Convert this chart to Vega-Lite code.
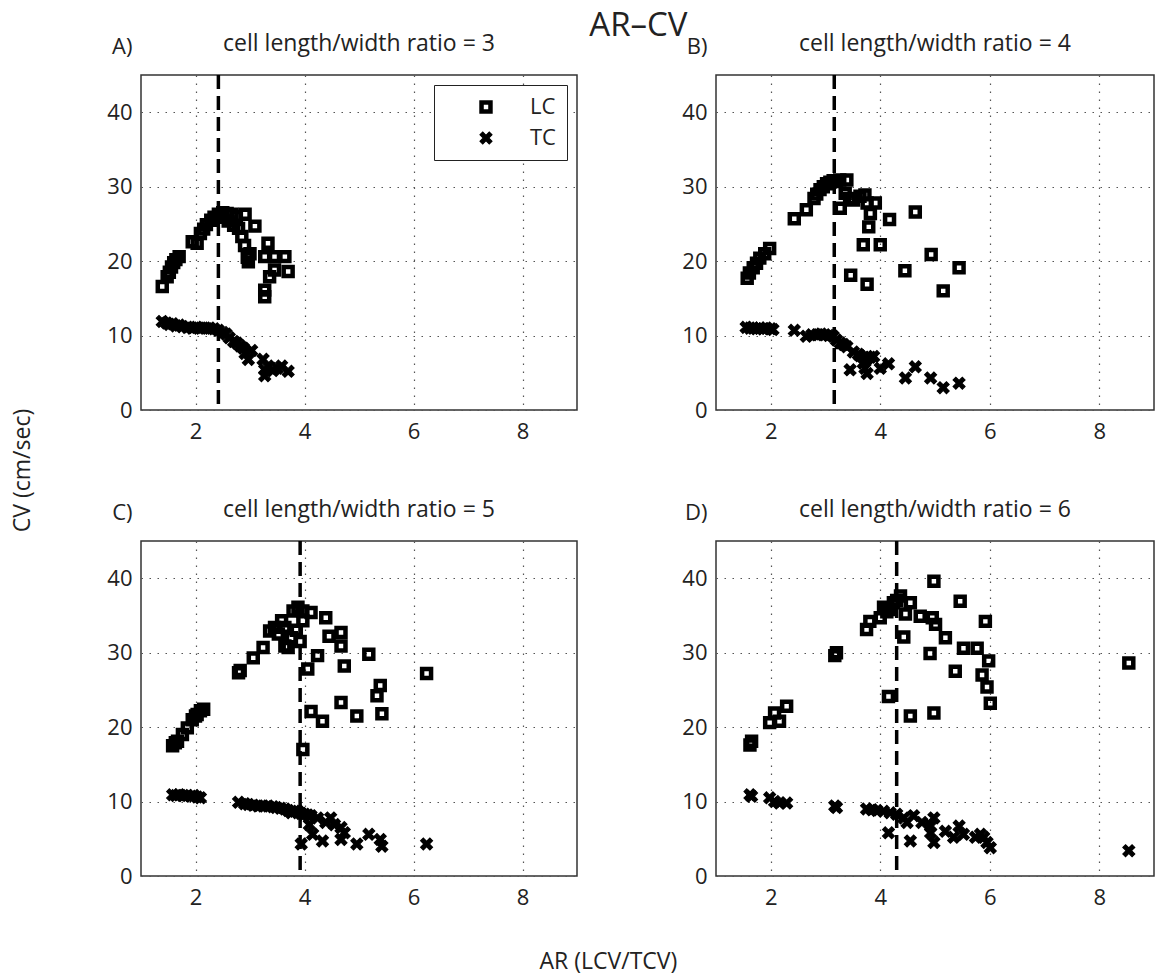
{
  "$schema": "https://vega.github.io/schema/vega-lite/v6.json",
  "padding": {"left": 12, "top": 10, "right": 2, "bottom": 2},
  "config": {
    "font": "Open Sans",
    "view": {"stroke": "#333", "strokeWidth": 1.5},
    "axis": {
      "labelFontSize": 22, "labelColor": "#222",
      "grid": true, "gridColor": "#555", "gridDash": [1.5, 6.5], "gridWidth": 1.2,
      "domain": false, "ticks": false
    },
    "axisX": {"labelPadding": 11},
    "axisY": {
      "labelPadding": 9,
      "titleAngle": 0, "titleAlign": "right", "titleBaseline": "alphabetic",
      "titleX": -9, "titleY": -22, "titleFontSize": 22, "titleFontWeight": "normal", "titleColor": "#222"
    },
    "title": {"fontSize": 23, "fontWeight": "normal", "color": "#222"},
    "legend": {
      "orient": "top-right", "offset": 10, "title": null,
      "strokeColor": "#222", "padding": 11, "fillColor": "white",
      "labelFontSize": 22, "labelColor": "#222", "symbolOffset": 30, "labelOffset": 33,
      "rowPadding": 6
    }
  },
  "datasets": {
    "points": [
      {"panel": "A", "series": "LC", "ar": 1.39, "cv": 16.6}, {"panel": "A", "series": "LC", "ar": 1.48, "cv": 17.9},
      {"panel": "A", "series": "LC", "ar": 1.52, "cv": 18.5}, {"panel": "A", "series": "LC", "ar": 1.56, "cv": 19.2},
      {"panel": "A", "series": "LC", "ar": 1.6, "cv": 19.8}, {"panel": "A", "series": "LC", "ar": 1.64, "cv": 20.2},
      {"panel": "A", "series": "LC", "ar": 1.7, "cv": 20.6}, {"panel": "A", "series": "LC", "ar": 1.94, "cv": 22.6},
      {"panel": "A", "series": "LC", "ar": 2.03, "cv": 22.4}, {"panel": "A", "series": "LC", "ar": 2.09, "cv": 23.7},
      {"panel": "A", "series": "LC", "ar": 2.15, "cv": 24.3}, {"panel": "A", "series": "LC", "ar": 2.2, "cv": 24.9},
      {"panel": "A", "series": "LC", "ar": 2.28, "cv": 25.5}, {"panel": "A", "series": "LC", "ar": 2.34, "cv": 25.9},
      {"panel": "A", "series": "LC", "ar": 2.42, "cv": 26.3}, {"panel": "A", "series": "LC", "ar": 2.5, "cv": 26.5},
      {"panel": "A", "series": "LC", "ar": 2.58, "cv": 26.4}, {"panel": "A", "series": "LC", "ar": 2.67, "cv": 26.3},
      {"panel": "A", "series": "LC", "ar": 2.75, "cv": 26.0}, {"panel": "A", "series": "LC", "ar": 2.91, "cv": 26.3},
      {"panel": "A", "series": "LC", "ar": 2.48, "cv": 25.9}, {"panel": "A", "series": "LC", "ar": 2.6, "cv": 25.4},
      {"panel": "A", "series": "LC", "ar": 2.7, "cv": 24.8}, {"panel": "A", "series": "LC", "ar": 2.79, "cv": 24.4},
      {"panel": "A", "series": "LC", "ar": 2.85, "cv": 23.3}, {"panel": "A", "series": "LC", "ar": 2.9, "cv": 22.1},
      {"panel": "A", "series": "LC", "ar": 2.95, "cv": 20.5}, {"panel": "A", "series": "LC", "ar": 3.0, "cv": 21.0},
      {"panel": "A", "series": "LC", "ar": 2.97, "cv": 19.9}, {"panel": "A", "series": "LC", "ar": 3.09, "cv": 24.7},
      {"panel": "A", "series": "LC", "ar": 3.33, "cv": 22.4}, {"panel": "A", "series": "LC", "ar": 3.27, "cv": 20.6},
      {"panel": "A", "series": "LC", "ar": 3.45, "cv": 20.6}, {"panel": "A", "series": "LC", "ar": 3.64, "cv": 20.6},
      {"panel": "A", "series": "LC", "ar": 3.7, "cv": 18.6}, {"panel": "A", "series": "LC", "ar": 3.36, "cv": 17.9},
      {"panel": "A", "series": "LC", "ar": 3.45, "cv": 18.8}, {"panel": "A", "series": "LC", "ar": 3.27, "cv": 16.1},
      {"panel": "A", "series": "LC", "ar": 3.27, "cv": 15.2},
      {"panel": "A", "series": "TC", "ar": 1.39, "cv": 11.9}, {"panel": "A", "series": "TC", "ar": 1.47, "cv": 11.7},
      {"panel": "A", "series": "TC", "ar": 1.52, "cv": 11.5}, {"panel": "A", "series": "TC", "ar": 1.58, "cv": 11.6},
      {"panel": "A", "series": "TC", "ar": 1.64, "cv": 11.3}, {"panel": "A", "series": "TC", "ar": 1.7, "cv": 11.4},
      {"panel": "A", "series": "TC", "ar": 1.76, "cv": 11.2}, {"panel": "A", "series": "TC", "ar": 1.85, "cv": 11.1},
      {"panel": "A", "series": "TC", "ar": 1.94, "cv": 11.0}, {"panel": "A", "series": "TC", "ar": 2.02, "cv": 11.1},
      {"panel": "A", "series": "TC", "ar": 2.1, "cv": 11.0}, {"panel": "A", "series": "TC", "ar": 2.18, "cv": 11.0},
      {"panel": "A", "series": "TC", "ar": 2.26, "cv": 11.0}, {"panel": "A", "series": "TC", "ar": 2.34, "cv": 10.9},
      {"panel": "A", "series": "TC", "ar": 2.42, "cv": 10.7}, {"panel": "A", "series": "TC", "ar": 2.5, "cv": 10.4},
      {"panel": "A", "series": "TC", "ar": 2.56, "cv": 10.2}, {"panel": "A", "series": "TC", "ar": 2.62, "cv": 9.7},
      {"panel": "A", "series": "TC", "ar": 2.7, "cv": 9.2}, {"panel": "A", "series": "TC", "ar": 2.76, "cv": 9.0},
      {"panel": "A", "series": "TC", "ar": 2.82, "cv": 8.6}, {"panel": "A", "series": "TC", "ar": 2.88, "cv": 8.3},
      {"panel": "A", "series": "TC", "ar": 2.91, "cv": 7.6}, {"panel": "A", "series": "TC", "ar": 2.97, "cv": 6.8},
      {"panel": "A", "series": "TC", "ar": 3.03, "cv": 8.0}, {"panel": "A", "series": "TC", "ar": 3.24, "cv": 6.8},
      {"panel": "A", "series": "TC", "ar": 3.27, "cv": 5.4}, {"panel": "A", "series": "TC", "ar": 3.27, "cv": 4.6},
      {"panel": "A", "series": "TC", "ar": 3.33, "cv": 5.9}, {"panel": "A", "series": "TC", "ar": 3.42, "cv": 5.3},
      {"panel": "A", "series": "TC", "ar": 3.5, "cv": 5.6}, {"panel": "A", "series": "TC", "ar": 3.58, "cv": 5.9},
      {"panel": "A", "series": "TC", "ar": 3.7, "cv": 5.2},

      {"panel": "B", "series": "LC", "ar": 1.57, "cv": 17.7}, {"panel": "B", "series": "LC", "ar": 1.61, "cv": 18.4},
      {"panel": "B", "series": "LC", "ar": 1.68, "cv": 19.1}, {"panel": "B", "series": "LC", "ar": 1.74, "cv": 19.7},
      {"panel": "B", "series": "LC", "ar": 1.8, "cv": 20.4}, {"panel": "B", "series": "LC", "ar": 1.89, "cv": 21.0},
      {"panel": "B", "series": "LC", "ar": 1.98, "cv": 21.7}, {"panel": "B", "series": "LC", "ar": 2.43, "cv": 25.7},
      {"panel": "B", "series": "LC", "ar": 2.65, "cv": 26.9}, {"panel": "B", "series": "LC", "ar": 2.79, "cv": 28.4},
      {"panel": "B", "series": "LC", "ar": 2.84, "cv": 29.0}, {"panel": "B", "series": "LC", "ar": 2.9, "cv": 29.6},
      {"panel": "B", "series": "LC", "ar": 2.96, "cv": 30.0}, {"panel": "B", "series": "LC", "ar": 3.02, "cv": 30.4},
      {"panel": "B", "series": "LC", "ar": 3.08, "cv": 30.6}, {"panel": "B", "series": "LC", "ar": 3.14, "cv": 30.8},
      {"panel": "B", "series": "LC", "ar": 3.2, "cv": 30.7}, {"panel": "B", "series": "LC", "ar": 3.26, "cv": 30.9},
      {"panel": "B", "series": "LC", "ar": 3.39, "cv": 30.9}, {"panel": "B", "series": "LC", "ar": 3.27, "cv": 27.1},
      {"panel": "B", "series": "LC", "ar": 3.36, "cv": 29.1}, {"panel": "B", "series": "LC", "ar": 3.44, "cv": 28.4},
      {"panel": "B", "series": "LC", "ar": 3.51, "cv": 28.2}, {"panel": "B", "series": "LC", "ar": 3.63, "cv": 28.7},
      {"panel": "B", "series": "LC", "ar": 3.72, "cv": 28.9}, {"panel": "B", "series": "LC", "ar": 3.76, "cv": 27.8},
      {"panel": "B", "series": "LC", "ar": 3.91, "cv": 27.8}, {"panel": "B", "series": "LC", "ar": 3.82, "cv": 26.4},
      {"panel": "B", "series": "LC", "ar": 3.79, "cv": 24.6}, {"panel": "B", "series": "LC", "ar": 3.69, "cv": 22.2},
      {"panel": "B", "series": "LC", "ar": 4.0, "cv": 22.2}, {"panel": "B", "series": "LC", "ar": 4.17, "cv": 25.6},
      {"panel": "B", "series": "LC", "ar": 4.64, "cv": 26.6}, {"panel": "B", "series": "LC", "ar": 3.46, "cv": 18.1},
      {"panel": "B", "series": "LC", "ar": 3.76, "cv": 16.9}, {"panel": "B", "series": "LC", "ar": 4.45, "cv": 18.7},
      {"panel": "B", "series": "LC", "ar": 4.93, "cv": 20.9}, {"panel": "B", "series": "LC", "ar": 5.15, "cv": 16.0},
      {"panel": "B", "series": "LC", "ar": 5.44, "cv": 19.1},
      {"panel": "B", "series": "TC", "ar": 1.55, "cv": 11.1}, {"panel": "B", "series": "TC", "ar": 1.62, "cv": 11.0},
      {"panel": "B", "series": "TC", "ar": 1.68, "cv": 11.0}, {"panel": "B", "series": "TC", "ar": 1.74, "cv": 10.9},
      {"panel": "B", "series": "TC", "ar": 1.8, "cv": 11.0}, {"panel": "B", "series": "TC", "ar": 1.86, "cv": 10.9},
      {"panel": "B", "series": "TC", "ar": 1.92, "cv": 11.0}, {"panel": "B", "series": "TC", "ar": 2.0, "cv": 10.9},
      {"panel": "B", "series": "TC", "ar": 2.04, "cv": 10.8}, {"panel": "B", "series": "TC", "ar": 2.43, "cv": 10.7},
      {"panel": "B", "series": "TC", "ar": 2.65, "cv": 9.9}, {"panel": "B", "series": "TC", "ar": 2.75, "cv": 10.1},
      {"panel": "B", "series": "TC", "ar": 2.84, "cv": 10.1}, {"panel": "B", "series": "TC", "ar": 2.92, "cv": 10.2},
      {"panel": "B", "series": "TC", "ar": 2.99, "cv": 10.1}, {"panel": "B", "series": "TC", "ar": 3.06, "cv": 10.0},
      {"panel": "B", "series": "TC", "ar": 3.14, "cv": 9.9}, {"panel": "B", "series": "TC", "ar": 3.2, "cv": 9.4},
      {"panel": "B", "series": "TC", "ar": 3.27, "cv": 9.0}, {"panel": "B", "series": "TC", "ar": 3.33, "cv": 8.8},
      {"panel": "B", "series": "TC", "ar": 3.39, "cv": 8.5}, {"panel": "B", "series": "TC", "ar": 3.51, "cv": 7.8},
      {"panel": "B", "series": "TC", "ar": 3.6, "cv": 7.5}, {"panel": "B", "series": "TC", "ar": 3.63, "cv": 7.3},
      {"panel": "B", "series": "TC", "ar": 3.7, "cv": 7.0}, {"panel": "B", "series": "TC", "ar": 3.76, "cv": 6.9},
      {"panel": "B", "series": "TC", "ar": 3.82, "cv": 7.1}, {"panel": "B", "series": "TC", "ar": 3.88, "cv": 7.2},
      {"panel": "B", "series": "TC", "ar": 3.69, "cv": 6.3}, {"panel": "B", "series": "TC", "ar": 3.72, "cv": 5.6},
      {"panel": "B", "series": "TC", "ar": 3.76, "cv": 4.9}, {"panel": "B", "series": "TC", "ar": 3.45, "cv": 5.4},
      {"panel": "B", "series": "TC", "ar": 4.0, "cv": 5.6}, {"panel": "B", "series": "TC", "ar": 4.15, "cv": 6.2},
      {"panel": "B", "series": "TC", "ar": 4.46, "cv": 4.3}, {"panel": "B", "series": "TC", "ar": 4.64, "cv": 5.8},
      {"panel": "B", "series": "TC", "ar": 4.92, "cv": 4.3}, {"panel": "B", "series": "TC", "ar": 5.15, "cv": 3.0},
      {"panel": "B", "series": "TC", "ar": 5.44, "cv": 3.6},

      {"panel": "C", "series": "LC", "ar": 1.58, "cv": 17.5}, {"panel": "C", "series": "LC", "ar": 1.63, "cv": 17.9},
      {"panel": "C", "series": "LC", "ar": 1.67, "cv": 18.1}, {"panel": "C", "series": "LC", "ar": 1.76, "cv": 19.0},
      {"panel": "C", "series": "LC", "ar": 1.85, "cv": 19.9}, {"panel": "C", "series": "LC", "ar": 1.94, "cv": 21.0},
      {"panel": "C", "series": "LC", "ar": 2.0, "cv": 21.5}, {"panel": "C", "series": "LC", "ar": 2.03, "cv": 21.7},
      {"panel": "C", "series": "LC", "ar": 2.09, "cv": 22.2}, {"panel": "C", "series": "LC", "ar": 2.15, "cv": 22.4},
      {"panel": "C", "series": "LC", "ar": 2.79, "cv": 27.3}, {"panel": "C", "series": "LC", "ar": 2.82, "cv": 27.6},
      {"panel": "C", "series": "LC", "ar": 3.06, "cv": 29.3}, {"panel": "C", "series": "LC", "ar": 3.24, "cv": 30.7},
      {"panel": "C", "series": "LC", "ar": 3.36, "cv": 32.9}, {"panel": "C", "series": "LC", "ar": 3.45, "cv": 33.4},
      {"panel": "C", "series": "LC", "ar": 3.52, "cv": 32.5}, {"panel": "C", "series": "LC", "ar": 3.58, "cv": 34.3},
      {"panel": "C", "series": "LC", "ar": 3.64, "cv": 33.4}, {"panel": "C", "series": "LC", "ar": 3.64, "cv": 30.9},
      {"panel": "C", "series": "LC", "ar": 3.76, "cv": 32.0}, {"panel": "C", "series": "LC", "ar": 3.7, "cv": 30.7},
      {"panel": "C", "series": "LC", "ar": 3.79, "cv": 35.6}, {"panel": "C", "series": "LC", "ar": 3.88, "cv": 36.1},
      {"panel": "C", "series": "LC", "ar": 3.97, "cv": 34.3}, {"panel": "C", "series": "LC", "ar": 3.97, "cv": 35.6},
      {"panel": "C", "series": "LC", "ar": 3.85, "cv": 33.0}, {"panel": "C", "series": "LC", "ar": 3.92, "cv": 31.5},
      {"panel": "C", "series": "LC", "ar": 4.12, "cv": 35.4}, {"panel": "C", "series": "LC", "ar": 4.39, "cv": 34.7},
      {"panel": "C", "series": "LC", "ar": 4.45, "cv": 32.2}, {"panel": "C", "series": "LC", "ar": 4.67, "cv": 32.7},
      {"panel": "C", "series": "LC", "ar": 4.67, "cv": 30.9}, {"panel": "C", "series": "LC", "ar": 4.73, "cv": 28.2},
      {"panel": "C", "series": "LC", "ar": 4.24, "cv": 29.6}, {"panel": "C", "series": "LC", "ar": 4.06, "cv": 27.8},
      {"panel": "C", "series": "LC", "ar": 3.97, "cv": 17.0}, {"panel": "C", "series": "LC", "ar": 4.12, "cv": 22.1},
      {"panel": "C", "series": "LC", "ar": 4.33, "cv": 20.8}, {"panel": "C", "series": "LC", "ar": 4.67, "cv": 23.3},
      {"panel": "C", "series": "LC", "ar": 4.96, "cv": 21.5}, {"panel": "C", "series": "LC", "ar": 5.18, "cv": 29.8},
      {"panel": "C", "series": "LC", "ar": 5.39, "cv": 25.6}, {"panel": "C", "series": "LC", "ar": 5.33, "cv": 24.2},
      {"panel": "C", "series": "LC", "ar": 5.42, "cv": 21.8}, {"panel": "C", "series": "LC", "ar": 6.24, "cv": 27.2},
      {"panel": "C", "series": "TC", "ar": 1.58, "cv": 10.9}, {"panel": "C", "series": "TC", "ar": 1.64, "cv": 10.8},
      {"panel": "C", "series": "TC", "ar": 1.7, "cv": 10.9}, {"panel": "C", "series": "TC", "ar": 1.78, "cv": 10.8},
      {"panel": "C", "series": "TC", "ar": 1.85, "cv": 10.8}, {"panel": "C", "series": "TC", "ar": 1.92, "cv": 10.7},
      {"panel": "C", "series": "TC", "ar": 1.97, "cv": 10.8}, {"panel": "C", "series": "TC", "ar": 2.03, "cv": 10.6},
      {"panel": "C", "series": "TC", "ar": 2.09, "cv": 10.5}, {"panel": "C", "series": "TC", "ar": 2.79, "cv": 9.9},
      {"panel": "C", "series": "TC", "ar": 2.9, "cv": 9.7}, {"panel": "C", "series": "TC", "ar": 2.97, "cv": 9.6},
      {"panel": "C", "series": "TC", "ar": 3.06, "cv": 9.5}, {"panel": "C", "series": "TC", "ar": 3.15, "cv": 9.4},
      {"panel": "C", "series": "TC", "ar": 3.24, "cv": 9.4}, {"panel": "C", "series": "TC", "ar": 3.33, "cv": 9.4},
      {"panel": "C", "series": "TC", "ar": 3.42, "cv": 9.3}, {"panel": "C", "series": "TC", "ar": 3.48, "cv": 9.2},
      {"panel": "C", "series": "TC", "ar": 3.56, "cv": 9.1}, {"panel": "C", "series": "TC", "ar": 3.64, "cv": 9.0},
      {"panel": "C", "series": "TC", "ar": 3.7, "cv": 8.8}, {"panel": "C", "series": "TC", "ar": 3.76, "cv": 8.5},
      {"panel": "C", "series": "TC", "ar": 3.82, "cv": 8.7}, {"panel": "C", "series": "TC", "ar": 3.88, "cv": 8.7},
      {"panel": "C", "series": "TC", "ar": 3.94, "cv": 8.4}, {"panel": "C", "series": "TC", "ar": 4.0, "cv": 8.3},
      {"panel": "C", "series": "TC", "ar": 4.06, "cv": 8.2}, {"panel": "C", "series": "TC", "ar": 4.12, "cv": 8.1},
      {"panel": "C", "series": "TC", "ar": 4.24, "cv": 7.8}, {"panel": "C", "series": "TC", "ar": 4.39, "cv": 7.2},
      {"panel": "C", "series": "TC", "ar": 4.48, "cv": 7.8}, {"panel": "C", "series": "TC", "ar": 4.55, "cv": 6.9},
      {"panel": "C", "series": "TC", "ar": 4.67, "cv": 6.5}, {"panel": "C", "series": "TC", "ar": 4.73, "cv": 5.8},
      {"panel": "C", "series": "TC", "ar": 4.09, "cv": 6.9}, {"panel": "C", "series": "TC", "ar": 4.15, "cv": 5.6},
      {"panel": "C", "series": "TC", "ar": 3.94, "cv": 4.3}, {"panel": "C", "series": "TC", "ar": 4.33, "cv": 4.7},
      {"panel": "C", "series": "TC", "ar": 4.67, "cv": 4.9}, {"panel": "C", "series": "TC", "ar": 4.96, "cv": 4.3},
      {"panel": "C", "series": "TC", "ar": 5.18, "cv": 5.6}, {"panel": "C", "series": "TC", "ar": 5.39, "cv": 4.9},
      {"panel": "C", "series": "TC", "ar": 5.42, "cv": 4.0}, {"panel": "C", "series": "TC", "ar": 6.24, "cv": 4.3},

      {"panel": "D", "series": "LC", "ar": 1.62, "cv": 17.6}, {"panel": "D", "series": "LC", "ar": 1.65, "cv": 18.1},
      {"panel": "D", "series": "LC", "ar": 1.98, "cv": 20.6}, {"panel": "D", "series": "LC", "ar": 2.07, "cv": 21.9},
      {"panel": "D", "series": "LC", "ar": 2.16, "cv": 20.8}, {"panel": "D", "series": "LC", "ar": 2.29, "cv": 22.8},
      {"panel": "D", "series": "LC", "ar": 3.17, "cv": 29.6}, {"panel": "D", "series": "LC", "ar": 3.2, "cv": 30.0},
      {"panel": "D", "series": "LC", "ar": 3.75, "cv": 33.1}, {"panel": "D", "series": "LC", "ar": 3.81, "cv": 34.2},
      {"panel": "D", "series": "LC", "ar": 4.0, "cv": 34.7}, {"panel": "D", "series": "LC", "ar": 4.06, "cv": 36.1},
      {"panel": "D", "series": "LC", "ar": 4.12, "cv": 35.5}, {"panel": "D", "series": "LC", "ar": 4.18, "cv": 35.8},
      {"panel": "D", "series": "LC", "ar": 4.24, "cv": 36.7}, {"panel": "D", "series": "LC", "ar": 4.3, "cv": 37.0},
      {"panel": "D", "series": "LC", "ar": 4.37, "cv": 37.6}, {"panel": "D", "series": "LC", "ar": 4.46, "cv": 35.2},
      {"panel": "D", "series": "LC", "ar": 4.55, "cv": 36.7}, {"panel": "D", "series": "LC", "ar": 4.43, "cv": 32.1},
      {"panel": "D", "series": "LC", "ar": 4.73, "cv": 34.9}, {"panel": "D", "series": "LC", "ar": 4.95, "cv": 34.7},
      {"panel": "D", "series": "LC", "ar": 5.01, "cv": 33.8}, {"panel": "D", "series": "LC", "ar": 5.19, "cv": 32.0},
      {"panel": "D", "series": "LC", "ar": 4.98, "cv": 39.6}, {"panel": "D", "series": "LC", "ar": 4.91, "cv": 29.9},
      {"panel": "D", "series": "LC", "ar": 5.37, "cv": 27.5}, {"panel": "D", "series": "LC", "ar": 5.46, "cv": 36.9},
      {"panel": "D", "series": "LC", "ar": 5.52, "cv": 30.6}, {"panel": "D", "series": "LC", "ar": 5.77, "cv": 30.6},
      {"panel": "D", "series": "LC", "ar": 5.98, "cv": 28.9}, {"panel": "D", "series": "LC", "ar": 5.92, "cv": 34.2},
      {"panel": "D", "series": "LC", "ar": 5.86, "cv": 27.0}, {"panel": "D", "series": "LC", "ar": 5.95, "cv": 25.4},
      {"panel": "D", "series": "LC", "ar": 6.01, "cv": 23.2}, {"panel": "D", "series": "LC", "ar": 4.15, "cv": 24.1},
      {"panel": "D", "series": "LC", "ar": 4.55, "cv": 21.5}, {"panel": "D", "series": "LC", "ar": 4.98, "cv": 21.9},
      {"panel": "D", "series": "LC", "ar": 8.54, "cv": 28.6},
      {"panel": "D", "series": "TC", "ar": 1.62, "cv": 10.9}, {"panel": "D", "series": "TC", "ar": 1.65, "cv": 10.7},
      {"panel": "D", "series": "TC", "ar": 1.98, "cv": 10.5}, {"panel": "D", "series": "TC", "ar": 2.07, "cv": 10.0},
      {"panel": "D", "series": "TC", "ar": 2.16, "cv": 9.8}, {"panel": "D", "series": "TC", "ar": 2.29, "cv": 9.8},
      {"panel": "D", "series": "TC", "ar": 3.17, "cv": 9.4}, {"panel": "D", "series": "TC", "ar": 3.2, "cv": 9.2},
      {"panel": "D", "series": "TC", "ar": 3.75, "cv": 9.0}, {"panel": "D", "series": "TC", "ar": 3.85, "cv": 8.9},
      {"panel": "D", "series": "TC", "ar": 3.94, "cv": 8.8}, {"panel": "D", "series": "TC", "ar": 4.06, "cv": 8.7},
      {"panel": "D", "series": "TC", "ar": 4.18, "cv": 8.5}, {"panel": "D", "series": "TC", "ar": 4.3, "cv": 8.3},
      {"panel": "D", "series": "TC", "ar": 4.43, "cv": 7.8}, {"panel": "D", "series": "TC", "ar": 4.49, "cv": 7.2},
      {"panel": "D", "series": "TC", "ar": 4.61, "cv": 8.1}, {"panel": "D", "series": "TC", "ar": 4.76, "cv": 7.2},
      {"panel": "D", "series": "TC", "ar": 4.92, "cv": 6.7}, {"panel": "D", "series": "TC", "ar": 4.98, "cv": 7.8},
      {"panel": "D", "series": "TC", "ar": 4.92, "cv": 5.8}, {"panel": "D", "series": "TC", "ar": 5.19, "cv": 6.0},
      {"panel": "D", "series": "TC", "ar": 5.34, "cv": 5.2}, {"panel": "D", "series": "TC", "ar": 5.44, "cv": 6.7},
      {"panel": "D", "series": "TC", "ar": 5.52, "cv": 5.6}, {"panel": "D", "series": "TC", "ar": 5.74, "cv": 5.2},
      {"panel": "D", "series": "TC", "ar": 5.83, "cv": 5.6}, {"panel": "D", "series": "TC", "ar": 5.89, "cv": 5.2},
      {"panel": "D", "series": "TC", "ar": 5.95, "cv": 4.5}, {"panel": "D", "series": "TC", "ar": 6.01, "cv": 3.8},
      {"panel": "D", "series": "TC", "ar": 4.15, "cv": 5.8}, {"panel": "D", "series": "TC", "ar": 4.55, "cv": 4.7},
      {"panel": "D", "series": "TC", "ar": 4.98, "cv": 4.5}, {"panel": "D", "series": "TC", "ar": 8.54, "cv": 3.4}
    ],
    "peaks": [
      {"panel": "A", "ar": 2.42},
      {"panel": "B", "ar": 3.16},
      {"panel": "C", "ar": 3.92},
      {"panel": "D", "ar": 4.3}
    ]
  },
  "title": {"text": "AR–CV", "fontSize": 33, "anchor": "middle", "offset": -11, "dx": 55},
  "vconcat": [
    {
      "title": {"text": "AR (LCV/TCV)", "orient": "bottom", "anchor": "middle", "offset": 42, "dx": 25},
      "vconcat": [
        {
          "title": {"text": "CV (cm/sec)", "orient": "left", "anchor": "middle", "offset": 71},
          "columns": 2,
          "spacing": {"row": 55, "column": 103},
          "resolve": {"legend": {"shape": "independent", "fill": "independent", "strokeWidth": "independent", "size": "independent"}},
          "concat": [
            {
              "width": 436, "height": 335,
              "title": {"text": "cell length/width ratio = 3", "offset": -21},
              "layer": [
                {
                  "data": {"name": "points"},
                  "transform": [{"filter": "datum.panel === 'A'"}],
                  "mark": {"type": "point", "stroke": "black", "opacity": 1},
                  "encoding": {
                    "x": {"field": "ar", "type": "quantitative", "scale": {"domain": [1, 9], "nice": false}, "axis": {"values": [2, 4, 6, 8], "title": null}},
                    "y": {"field": "cv", "type": "quantitative", "scale": {"domain": [0, 45], "nice": false}, "axis": {"values": [0, 10, 20, 30, 40], "title": "A)"}},
                    "shape": {"field": "series", "type": "nominal", "scale": {"domain": ["LC", "TC"], "range": ["square", "M-1,-0.55L-0.55,-1L0,-0.45L0.55,-1L1,-0.55L0.45,0L1,0.55L0.55,1L0,0.45L-0.55,1L-1,0.55L-0.45,0Z"]}},
                    "fill": {"field": "series", "type": "nominal", "scale": {"domain": ["LC", "TC"], "range": ["transparent", "black"]}},
                    "strokeWidth": {"field": "series", "type": "nominal", "scale": {"domain": ["LC", "TC"], "range": [4.5, 1.2]}},
                    "size": {"field": "series", "type": "nominal", "scale": {"domain": ["LC", "TC"], "range": [80, 140]}}
                  }
                },
                {
                  "data": {"name": "peaks"},
                  "transform": [{"filter": "datum.panel === 'A'"}],
                  "mark": {"type": "rule", "color": "black", "strokeWidth": 3.5, "strokeDash": [14, 7]},
                  "encoding": {"x": {"field": "ar", "type": "quantitative"}}
                }
              ]
            },
            {
              "width": 438, "height": 335,
              "title": {"text": "cell length/width ratio = 4", "offset": -21},
              "layer": [
                {
                  "data": {"name": "points"},
                  "transform": [{"filter": "datum.panel === 'B'"}],
                  "mark": {"type": "point", "stroke": "black", "opacity": 1},
                  "encoding": {
                    "x": {"field": "ar", "type": "quantitative", "scale": {"domain": [1, 9], "nice": false}, "axis": {"values": [2, 4, 6, 8], "title": null}},
                    "y": {"field": "cv", "type": "quantitative", "scale": {"domain": [0, 45], "nice": false}, "axis": {"values": [0, 10, 20, 30, 40], "title": "B)"}},
                    "shape": {"field": "series", "type": "nominal", "legend": null, "scale": {"domain": ["LC", "TC"], "range": ["square", "M-1,-0.55L-0.55,-1L0,-0.45L0.55,-1L1,-0.55L0.45,0L1,0.55L0.55,1L0,0.45L-0.55,1L-1,0.55L-0.45,0Z"]}},
                    "fill": {"field": "series", "type": "nominal", "legend": null, "scale": {"domain": ["LC", "TC"], "range": ["transparent", "black"]}},
                    "strokeWidth": {"field": "series", "type": "nominal", "legend": null, "scale": {"domain": ["LC", "TC"], "range": [4.5, 1.2]}},
                    "size": {"field": "series", "type": "nominal", "legend": null, "scale": {"domain": ["LC", "TC"], "range": [80, 140]}}
                  }
                },
                {
                  "data": {"name": "peaks"},
                  "transform": [{"filter": "datum.panel === 'B'"}],
                  "mark": {"type": "rule", "color": "black", "strokeWidth": 3.5, "strokeDash": [14, 7]},
                  "encoding": {"x": {"field": "ar", "type": "quantitative"}}
                }
              ]
            },
            {
              "width": 436, "height": 335,
              "title": {"text": "cell length/width ratio = 5", "offset": -21},
              "layer": [
                {
                  "data": {"name": "points"},
                  "transform": [{"filter": "datum.panel === 'C'"}],
                  "mark": {"type": "point", "stroke": "black", "opacity": 1},
                  "encoding": {
                    "x": {"field": "ar", "type": "quantitative", "scale": {"domain": [1, 9], "nice": false}, "axis": {"values": [2, 4, 6, 8], "title": null}},
                    "y": {"field": "cv", "type": "quantitative", "scale": {"domain": [0, 45], "nice": false}, "axis": {"values": [0, 10, 20, 30, 40], "title": "C)"}},
                    "shape": {"field": "series", "type": "nominal", "legend": null, "scale": {"domain": ["LC", "TC"], "range": ["square", "M-1,-0.55L-0.55,-1L0,-0.45L0.55,-1L1,-0.55L0.45,0L1,0.55L0.55,1L0,0.45L-0.55,1L-1,0.55L-0.45,0Z"]}},
                    "fill": {"field": "series", "type": "nominal", "legend": null, "scale": {"domain": ["LC", "TC"], "range": ["transparent", "black"]}},
                    "strokeWidth": {"field": "series", "type": "nominal", "legend": null, "scale": {"domain": ["LC", "TC"], "range": [4.5, 1.2]}},
                    "size": {"field": "series", "type": "nominal", "legend": null, "scale": {"domain": ["LC", "TC"], "range": [80, 140]}}
                  }
                },
                {
                  "data": {"name": "peaks"},
                  "transform": [{"filter": "datum.panel === 'C'"}],
                  "mark": {"type": "rule", "color": "black", "strokeWidth": 3.5, "strokeDash": [14, 7]},
                  "encoding": {"x": {"field": "ar", "type": "quantitative"}}
                }
              ]
            },
            {
              "width": 438, "height": 335,
              "title": {"text": "cell length/width ratio = 6", "offset": -21},
              "layer": [
                {
                  "data": {"name": "points"},
                  "transform": [{"filter": "datum.panel === 'D'"}],
                  "mark": {"type": "point", "stroke": "black", "opacity": 1},
                  "encoding": {
                    "x": {"field": "ar", "type": "quantitative", "scale": {"domain": [1, 9], "nice": false}, "axis": {"values": [2, 4, 6, 8], "title": null}},
                    "y": {"field": "cv", "type": "quantitative", "scale": {"domain": [0, 45], "nice": false}, "axis": {"values": [0, 10, 20, 30, 40], "title": "D)"}},
                    "shape": {"field": "series", "type": "nominal", "legend": null, "scale": {"domain": ["LC", "TC"], "range": ["square", "M-1,-0.55L-0.55,-1L0,-0.45L0.55,-1L1,-0.55L0.45,0L1,0.55L0.55,1L0,0.45L-0.55,1L-1,0.55L-0.45,0Z"]}},
                    "fill": {"field": "series", "type": "nominal", "legend": null, "scale": {"domain": ["LC", "TC"], "range": ["transparent", "black"]}},
                    "strokeWidth": {"field": "series", "type": "nominal", "legend": null, "scale": {"domain": ["LC", "TC"], "range": [4.5, 1.2]}},
                    "size": {"field": "series", "type": "nominal", "legend": null, "scale": {"domain": ["LC", "TC"], "range": [80, 140]}}
                  }
                },
                {
                  "data": {"name": "peaks"},
                  "transform": [{"filter": "datum.panel === 'D'"}],
                  "mark": {"type": "rule", "color": "black", "strokeWidth": 3.5, "strokeDash": [14, 7]},
                  "encoding": {"x": {"field": "ar", "type": "quantitative"}}
                }
              ]
            }
          ]
        }
      ]
    }
  ]
}
